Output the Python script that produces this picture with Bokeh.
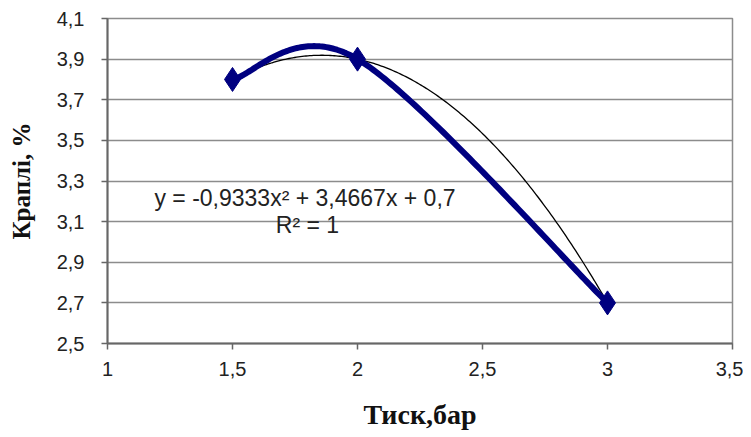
import numpy as np
from bokeh.plotting import figure
from bokeh.models import FixedTicker, Label, Range1d
from bokeh.embed import file_html
from bokeh.resources import INLINE

# Data
pressure = [1.5, 2.0, 3.0]          # Тиск, бар
drops = [3.8, 3.9, 2.7]             # Краплі, %
x_ticks = [1, 1.5, 2, 2.5, 3, 3.5]
x_tick_labels = ["1", "1,5", "2", "2,5", "3", "3,5"]
y_ticks = [2.5, 2.7, 2.9, 3.1, 3.3, 3.5, 3.7, 3.9, 4.1]
y_tick_labels = ["2,5", "2,7", "2,9", "3,1", "3,3", "3,5", "3,7", "3,9", "4,1"]
eq_text = "y = -0,9333x² + 3,4667x + 0,7"
r2_text = "R² = 1"

p = figure(width=743, height=437, output_backend="svg", toolbar_location=None,
           x_range=Range1d(1, 3.5), y_range=Range1d(2.5, 4.1),
           min_border_left=107, min_border_right=11, min_border_top=18, min_border_bottom=94)
p.background_fill_color = "white"
p.border_fill_color = "white"
p.outline_line_color = "#8c8c8c"
p.outline_line_width = 1.5

for ax in (p.xaxis[0], p.yaxis[0]):
    ax.axis_line_color = "#666666"
    ax.axis_line_width = 2
    ax.major_tick_line_color = "#666666"
    ax.major_tick_line_width = 1.5
    ax.major_tick_in = 0
    ax.major_tick_out = 6
    ax.minor_tick_line_color = None
    ax.major_label_text_font = "Liberation Sans"
    ax.major_label_text_font_size = "20px"
    ax.major_label_text_color = "#222222"
    ax.axis_label_text_font = "Liberation Serif"
    ax.axis_label_text_font_style = "bold"
    ax.axis_label_text_color = "#111111"

p.xaxis.axis_label_text_font_size = "28px"
p.yaxis.axis_label_text_font_size = "25px"
p.xaxis.ticker = FixedTicker(ticks=x_ticks)
p.xaxis.major_label_overrides = {t: l for t, l in zip(x_ticks, x_tick_labels)}
p.yaxis.ticker = FixedTicker(ticks=y_ticks)
p.yaxis.major_label_overrides = {t: l for t, l in zip(y_ticks, y_tick_labels)}
p.xaxis.axis_label = "Тиск,бар"
p.yaxis.axis_label = "Краплі, %"
p.xaxis.major_label_standoff = 12
p.yaxis.major_label_standoff = 17
p.xaxis.axis_label_standoff = 20
p.yaxis.axis_label_standoff = 19

p.xgrid.grid_line_color = None
p.ygrid.grid_line_color = "#8c8c8c"
p.ygrid.grid_line_width = 1.5

# trendline: polynomial fit of order 2
xs = np.array(pressure)
ys = np.array(drops)
coef = np.polyfit(xs, ys, 2)
tx = np.linspace(xs.min(), xs.max(), 200)
ty = np.polyval(coef, tx)
p.line(tx, ty, line_color="black", line_width=1.3)

# smoothed line (Catmull-Rom style Bezier)
k = 1 / 6
pts = list(zip(xs, ys))
sx, sy = [], []
n = len(pts)
for i in range(n - 1):
    p0 = np.array(pts[i - 1] if i > 0 else pts[i])
    p1 = np.array(pts[i])
    p2 = np.array(pts[i + 1])
    p3 = np.array(pts[i + 2] if i + 2 < n else pts[i + 1])
    c1 = p1 + k * (p2 - p0)
    c2 = p2 - k * (p3 - p1)
    t = np.linspace(0, 1, 80)[:, None]
    b = ((1 - t) ** 3) * p1 + 3 * ((1 - t) ** 2) * t * c1 + 3 * (1 - t) * t ** 2 * c2 + t ** 3 * p2
    sx.extend(b[:, 0]); sy.extend(b[:, 1])
p.line(sx, sy, line_color="#000080", line_width=6, line_join="round", line_cap="round")
p.scatter(pressure, drops, marker="diamond", size=24, fill_color="#000080", line_color="#000080")

p.add_layout(Label(x=1.79, y=3.214, text=eq_text, text_align="center", text_baseline="middle",
                   text_font="Liberation Sans", text_font_size="23px", text_color="#222222"))
p.add_layout(Label(x=1.80, y=3.085, text=r2_text, text_align="center", text_baseline="middle",
                   text_font="Liberation Sans", text_font_size="23px", text_color="#222222"))

open("out.html", "w").write(file_html(p, INLINE))
